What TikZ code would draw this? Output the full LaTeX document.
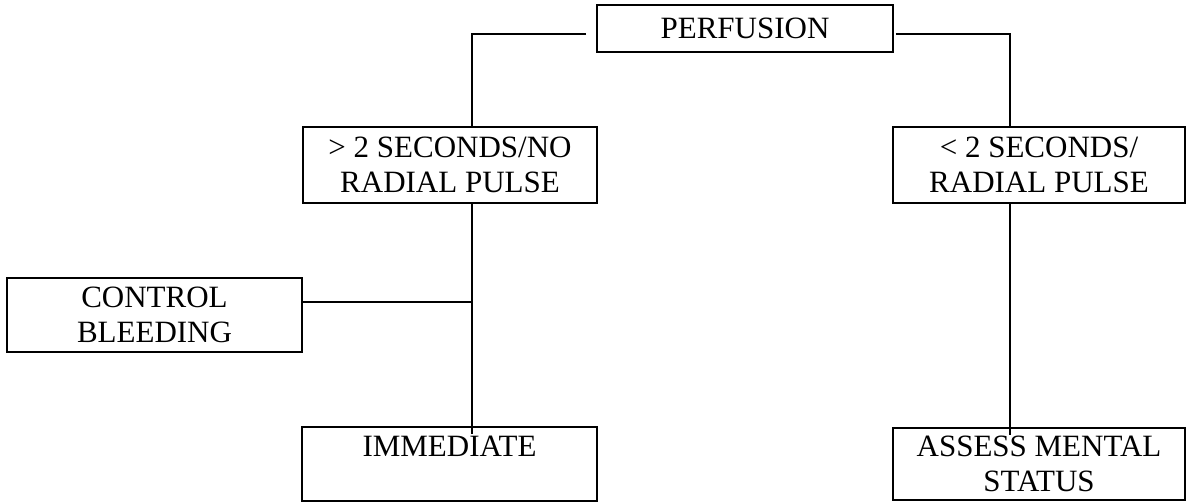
\documentclass[tikz,border=0pt]{standalone}
\usepackage{fontspec}
\setmainfont{Liberation Serif}
\usepackage{tikz}

\begin{document}
\begin{tikzpicture}[x=1pt, y=-1pt,
    stage/.style={draw, line width=1.6pt, rectangle, inner sep=0pt, align=center,
                  font=\fontsize{31}{35}\selectfont},
    link/.style={line width=1.3pt}]
  \useasboundingbox (0,0) rectangle (1186,502);

  \node[stage, minimum width=296pt, minimum height=47pt] (perf) at (745,28.5) {PERFUSION};
  \node[stage, minimum width=294pt, minimum height=76pt] (slow) at (450,165) {\textgreater{} 2 SECONDS/NO\\RADIAL PULSE};
  \node[stage, minimum width=292pt, minimum height=76pt] (fast) at (1039,165) {\textless{} 2 SECONDS/\\RADIAL PULSE};
  \node[stage, minimum width=295pt, minimum height=74pt] (bleed) at (154.5,315) {CONTROL\\BLEEDING};
  \node[stage, minimum width=295pt, minimum height=74pt] (immed) at (449.5,464) {IMMEDIATE\\\phantom{STATUS}};
  \node[stage, minimum width=292pt, minimum height=72pt] (mental) at (1039,464) {ASSESS MENTAL\\STATUS};

  \coordinate (tee) at (472,302);

  \draw[link, shorten <=10pt] ([yshift=-5.5pt]perf.west) -| ([xshift=22pt]slow.north);
  \draw[link, shorten <=2pt] ([yshift=-5.5pt]perf.east) -| ([xshift=-29pt]fast.north);
  \draw[link] ([xshift=22pt]slow.south) -- ([xshift=22.5pt,yshift=-8pt]immed.north);
  \draw[link] ([yshift=13pt]bleed.east) -- (tee);
  \draw[link] ([xshift=-29pt]fast.south) -- ([xshift=-29pt,yshift=-8pt]mental.north);
\end{tikzpicture}
\end{document}
